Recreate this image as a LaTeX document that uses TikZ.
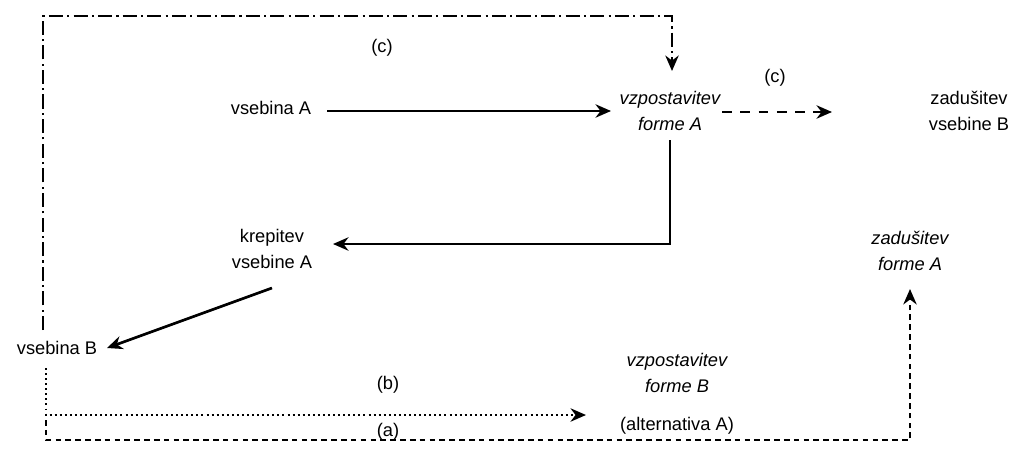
\documentclass[tikz,border=0pt]{standalone}
\usepackage{fontspec}
\setmainfont{Liberation Sans}
\usetikzlibrary{calc,arrows.meta}

\tikzset{
	lbl/.style={align=center, inner sep=2pt, font=\fontsize{13}{18.5}\selectfont},
	ilbl/.style={lbl, font=\fontsize{13}{18.5}\selectfont\itshape},
	conn/.style={line width=1.9pt, -{Stealth[length=11pt,width=9.5pt]}},
}

\begin{document}
\begin{tikzpicture}[x=0.025cm,y=-0.025cm]
					\useasboundingbox (0,0) rectangle (1017,448);

					% Nodes
					\node[lbl] (vsA) at (271,108) {vsebina A};
					\node[ilbl] (fA) at (670,111) {vzpostavitev\\forme A};
					\node[lbl] (zvB) at (969,111) {zadušitev\\vsebine B};
					\node[lbl] (kvA) at (272,249) {krepitev\\vsebine A};
					\node[lbl] (vsB) at (57,348) {vsebina B};
					\node[ilbl] (zfA) at (910,251) {zadušitev\\forme A};
					\node[ilbl] (fB) at (677,373) {vzpostavitev\\forme B};
					\node[lbl] (alt) at (677,426) {(alternativa A)};

					\node[lbl] (c1) at (382,48) {(c)};
					\node[lbl] (c2) at (775,78) {(c)};
					\node[lbl] (b) at (388,385) {(b)};
					\node[lbl] (a) at (388,432) {(a)};

					% Corner points
					\coordinate (topL) at (43,16);
					\coordinate (ddS) at (43,330);
					\coordinate (fAin) at (672,71);
					\coordinate (vsAout) at (327,111);
					\coordinate (fAw) at (611,111);
					\coordinate (fAe) at (722,112);
					\coordinate (zvBin) at (832,112);
					\coordinate (fAout) at (670,140);
					\coordinate (kvAin) at (333,244);
					\coordinate (kvAout) at (272,288);
					\coordinate (vsBin) at (107,348);
					\coordinate (dotS) at (46,368);
					\coordinate (dotE) at (586,415);
					\coordinate (dshS) at (46,420);
					\coordinate (dshE) at (910,440);
					\coordinate (zfAin) at (910,289);

					% Main arrows
					\draw[conn] (vsAout) -- (fAw);
					\draw[conn] (fAout) |- (kvAin);
					\draw[conn] (kvAout) -- (vsBin);
					\draw[conn, dash pattern=on 7pt off 6pt] (fAe) -- (zvBin);

					% (c), (b), (a)
					\draw[conn, line width=1.6pt, dash pattern=on 10pt off 3pt on 1.5pt off 3pt] (ddS) -- (topL) -- (topL -| fAin) -- (fAin);
					\draw[conn, line width=1.6pt, dash pattern=on 1.4pt off 2.2pt] (dotS) |- (dotE);
					\draw[conn, line width=1.6pt, dash pattern=on 4pt off 3pt] (dshS) |- (dshE) -- (zfAin);
    			\end{tikzpicture}
\end{document}
